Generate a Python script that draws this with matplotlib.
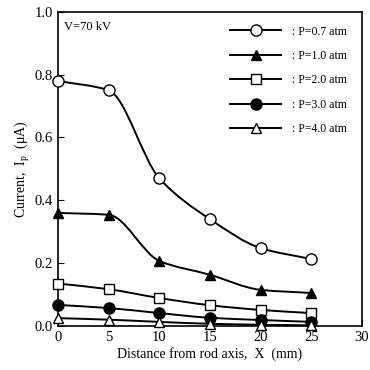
import matplotlib
matplotlib.use('Agg')
import matplotlib.pyplot as plt
from matplotlib.path import Path
from matplotlib.patches import PathPatch
from matplotlib.lines import Line2D
import numpy as np

plt.rcParams['font.family'] = ['Liberation Serif', 'DejaVu Serif']
plt.rcParams['mathtext.fontset'] = 'custom'
plt.rcParams['mathtext.rm'] = 'Liberation Serif'
plt.rcParams['mathtext.it'] = 'Liberation Serif'

x = [0, 5, 10, 15, 20, 25]
p07 = [0.78, 0.75, 0.47, 0.34, 0.248, 0.213]
p10 = [0.36, 0.354, 0.207, 0.163, 0.115, 0.105]
p20 = [0.135, 0.117, 0.089, 0.066, 0.051, 0.041]
p30 = [0.067, 0.057, 0.041, 0.026, 0.019, 0.013]
p40 = [0.025, 0.02, 0.013, 0.007, 0.004, 0.002]

labels = [': P=0.7 atm', ': P=1.0 atm', ': P=2.0 atm', ': P=3.0 atm', ': P=4.0 atm']
markers = ['o', '^', 's', 'o', '^']
fills = ['white', 'black', 'white', 'black', 'white']


def smooth_path(xs, ys):
    # monotone cubic through the points, drawn as bezier segments
    xs = np.asarray(xs, float)
    ys = np.asarray(ys, float)
    h = np.diff(xs)
    d = np.diff(ys) / h
    m = np.zeros_like(ys)
    m[0], m[-1] = d[0], d[-1]
    for i in range(1, len(ys) - 1):
        if d[i - 1] * d[i] > 0:
            m[i] = 2 / (1 / d[i - 1] + 1 / d[i])
    verts = [(xs[0], ys[0])]
    codes = [Path.MOVETO]
    for i in range(len(xs) - 1):
        verts += [(xs[i] + h[i] / 3, ys[i] + m[i] * h[i] / 3),
                  (xs[i + 1] - h[i] / 3, ys[i + 1] - m[i + 1] * h[i] / 3),
                  (xs[i + 1], ys[i + 1])]
        codes += [Path.CURVE4] * 3
    return Path(verts, codes)


fig = plt.figure(figsize=(3.7, 3.7), dpi=100)
ax = fig.add_axes([0.157, 0.119, 0.821, 0.849])

handles = []
for ys, lab, mk, fc in zip([p07, p10, p20, p30, p40], labels, markers, fills):
    ax.add_patch(PathPatch(smooth_path(x, ys), fill=False, ec='black', lw=1.4, zorder=2))
    ms = 8 if mk == 'o' else 7
    ax.plot(x, ys, ls='none', marker=mk, markersize=ms, markerfacecolor=fc,
            markeredgecolor='black', markeredgewidth=1.0, zorder=3, clip_on=False)
    handles.append(Line2D([], [], color='black', lw=1.4, marker=mk, markersize=ms,
                          markerfacecolor=fc, markeredgecolor='black', markeredgewidth=1.0))

ax.set_xlim(0, 30)
ax.set_ylim(0, 1.0)
ax.set_xticks([0, 5, 10, 15, 20, 25, 30])
ax.set_yticks([0, 0.2, 0.4, 0.6, 0.8, 1.0])
ax.set_yticklabels(['0.0', '0.2', '0.4', '0.6', '0.8', '1.0'])
ax.tick_params(direction='in', labelsize=10.5, length=4)
ax.set_xlabel('Distance from rod axis,  X  (mm)', fontsize=10, labelpad=2)
ax.set_ylabel(r'Current,  I$_\mathrm{p}$  ($\mu$A)', fontsize=10, labelpad=2)
ax.text(0.6, 0.97, 'V=70 kV', fontsize=9, va='top')
ax.legend(handles, labels, loc='upper right', frameon=False, fontsize=8.5,
          handlelength=4.3, handletextpad=0.9, labelspacing=1.05,
          bbox_to_anchor=(0.985, 0.99))
for s in ax.spines.values():
    s.set_linewidth(1.2)

plt.savefig('out.png', dpi=100)
